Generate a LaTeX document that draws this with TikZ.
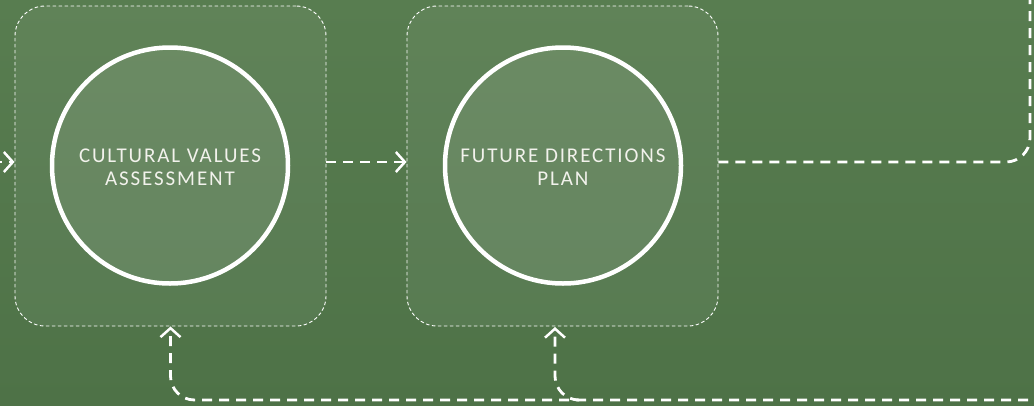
\documentclass[tikz,border=0pt]{standalone}
\usepackage{fontspec}
\setmainfont{Carlito}
\usetikzlibrary{arrows.meta}
\definecolor{bgtop}{HTML}{587D50}
\definecolor{bgbot}{HTML}{4E7247}
\definecolor{txt}{HTML}{F2F2EC}
\tikzset{
  panel/.style={draw=white, line width=0.9pt, dash pattern=on 3.5pt off 2.5pt,
    rounded corners=30pt, fill=white, fill opacity=0.05, draw opacity=1,
    minimum width=311pt, minimum height=320pt, inner sep=0pt},
  ring/.style={circle, draw=white, line width=4.5pt, fill=white!60!bgtop,
    fill opacity=0.13, minimum size=236pt, inner sep=0pt},
  lbl/.style={text=txt, align=center, inner sep=0pt,
    font=\fontsize{21pt}{23pt}\selectfont\addfontfeatures{LetterSpace=9}},
  conn/.style={draw=white, line width=2.8pt, dash pattern=on 10pt off 7pt},
  tip/.style={-{Straight Barb[length=9pt,width=20pt,line width=2.5pt]}},
}
\begin{document}
\begin{tikzpicture}[x=1pt,y=-1pt]
\useasboundingbox (0,0) rectangle (1034,405);
\shade[top color=bgtop, bottom color=bgbot] (0,0) rectangle (1034,405);
% panels
\node[panel] (p1) at (170.5,166) {};
\node[panel] (p2) at (562.5,166) {};
% circles
\node[ring] (c1) at (170,165.5) {};
\node[ring] (c2) at (563,165.5) {};
\node[lbl] (t1) at ([yshift=-2pt]c1.center) {CULTURAL VALUES\\ASSESSMENT};
\node[lbl] (t2) at ([yshift=-2pt]c2.center) {FUTURE DIRECTIONS\\PLAN};
% connectors
\coordinate (inL) at (-8,162);
\coordinate (outR) at (1030,-12);
\coordinate (botR) at (1045,400);
\coordinate (j1) at (578,400);
\coordinate (a2) at (555,327);
\draw[conn, tip] (inL) -- (p1.west |- 0,162);
\draw[conn, tip] (p1.east |- 0,162) -- (p2.west |- 0,162);
\draw[conn, rounded corners=24pt] (p2.east |- 0,162) -| (outR);
\draw[conn, tip, rounded corners=24pt] (botR) -| (p1.south);
\draw[conn, tip, rounded corners=24pt] (j1) -| (a2);
\end{tikzpicture}
\end{document}
